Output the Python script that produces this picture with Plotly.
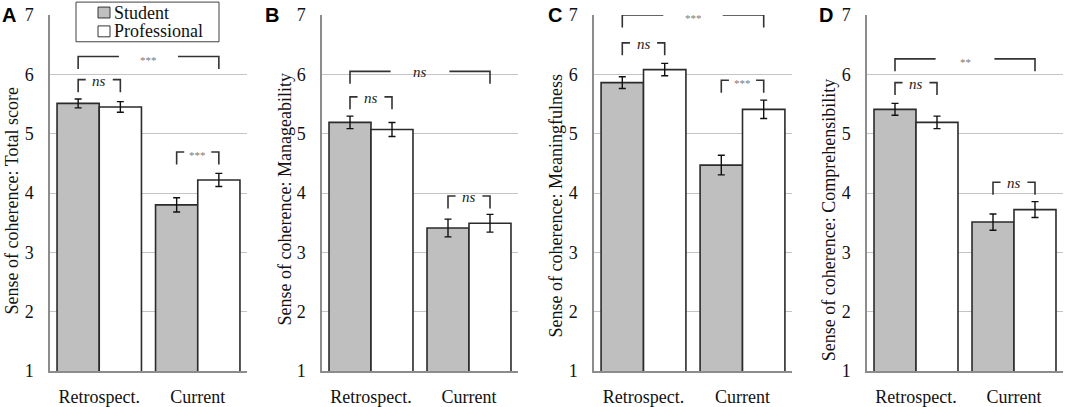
import plotly.graph_objects as go

# ---------------- data ----------------
conditions = ["Retrospect.", "Current"]
groups = ["Student", "Professional"]
panel_letters = ["A", "B", "C", "D"]
y_titles = [
    "Sense of coherence: Total score",
    "Sense of coherence: Manageability",
    "Sense of coherence: Meaningfulness",
    "Sense of coherence: Comprehensibility",
]
student_mean = [[5.51, 3.80], [5.19, 3.41], [5.86, 4.47], [5.41, 3.51]]
professional_mean = [[5.45, 4.22], [5.07, 3.49], [6.08, 5.41], [5.19, 3.72]]
student_err = [[0.075, 0.12], [0.105, 0.15], [0.10, 0.165], [0.10, 0.137]]
professional_err = [[0.09, 0.11], [0.117, 0.15], [0.105, 0.155], [0.105, 0.134]]
# significance: student vs professional within each condition, and retrospective vs current
group_sig = [["ns", "***"], ["ns", "ns"], ["ns", "***"], ["ns", "ns"]]
time_sig = ["***", "ns", "***", "**"]

# ---------------- layout helpers ----------------
W, H = 1065, 407
MT, MB = 15, 33
plot_h = H - MT - MB
x_domains_px = [(50, 247), (322, 518), (594, 792), (867, 1063)]
title_centers_px = [(12, 203), (285, 201), (556, 208), (829, 222)]
letter_centers_px = [(9, 15), (272, 15), (555, 15), (826, 15)]
# bracket levels (top of bracket) per panel: [time, group-retro, group-current]
bracket_tops = [[6.30, 5.91, 4.69], [6.05, 5.62, 3.95], [7.0, 6.53, 5.90], [6.26, 5.86, 4.18]]
leg = 0.21
bargap = 0.143
half = (1 - bargap) / 4.0  # offset of bar centre from category centre

STUDENT_FILL = "#bfbfbf"
OUTLINE = "#2b2b2b"
BRACKET = "#333333"
SERIF = "Liberation Serif"


def px_x(p):
    return p / W


def px_y(p):
    return (H - MB - p) / plot_h


fig = go.Figure()
shapes = []
annotations = []

for i in range(4):
    sfx = "" if i == 0 else str(i + 1)
    xa, ya = "x" + sfx, "y" + sfx
    xs = list(range(len(conditions)))
    fig.add_trace(go.Bar(
        x=xs, y=student_mean[i], name=groups[0], xaxis=xa, yaxis=ya,
        marker=dict(color=STUDENT_FILL, line=dict(color=OUTLINE, width=1.6)),
        error_y=dict(type="data", array=student_err[i], color="#111111", thickness=1.4, width=3.5),
        showlegend=False,
    ))
    fig.add_trace(go.Bar(
        x=xs, y=professional_mean[i], name=groups[1], xaxis=xa, yaxis=ya,
        marker=dict(color="white", line=dict(color=OUTLINE, width=1.6)),
        error_y=dict(type="data", array=professional_err[i], color="#111111", thickness=1.4, width=3.5),
        showlegend=False,
    ))
    d0, d1 = x_domains_px[i]
    fig.layout["xaxis" + sfx] = dict(
        domain=[px_x(d0), px_x(d1)], anchor=ya, range=[-0.5, 1.5],
        tickvals=xs, ticktext=conditions, showline=True, linecolor="#8c8c8c", linewidth=1.5,
        showgrid=False, zeroline=False, ticks="", ticklabelstandoff=9,
        tickfont=dict(family=SERIF, size=18, color="#111111"), fixedrange=True,
    )
    fig.layout["yaxis" + sfx] = dict(
        domain=[0, 1], anchor=xa, range=[1, 7], dtick=1, tick0=1,
        showline=True, linecolor="#8c8c8c", linewidth=1.5,
        showgrid=True, gridcolor="#c4c4c4", gridwidth=1, zeroline=False, ticks="",
        ticklabelstandoff=11, tickfont=dict(family=SERIF, size=18, color="#111111"),
        fixedrange=True,
    )

    # y-axis title
    tx, ty = title_centers_px[i]
    annotations.append(dict(
        x=px_x(tx), y=px_y(ty), xref="paper", yref="paper", text=y_titles[i],
        textangle=-90, showarrow=False, xanchor="center", yanchor="middle",
        font=dict(family=SERIF, size=18, color="#111111"),
    ))
    # panel letter
    lx, ly = letter_centers_px[i]
    annotations.append(dict(
        x=px_x(lx), y=px_y(ly), xref="paper", yref="paper", text="<b>%s</b>" % panel_letters[i],
        showarrow=False, xanchor="center", yanchor="middle",
        font=dict(family="Liberation Sans", size=20, color="#000000"),
    ))

    def bracket(x1, x2, top, label, frac):
        span = x2 - x1
        shapes.append(dict(type="path", xref=xa, yref=ya,
                           path="M %f,%f L %f,%f L %f,%f" % (x1, top - leg, x1, top, x1 + frac * span, top),
                           line=dict(color=BRACKET, width=1.6)))
        shapes.append(dict(type="path", xref=xa, yref=ya,
                           path="M %f,%f L %f,%f L %f,%f" % (x2 - frac * span, top, x2, top, x2, top - leg),
                           line=dict(color=BRACKET, width=1.6)))
        if label == "ns":
            annotations.append(dict(x=(x1 + x2) / 2, y=top, xref=xa, yref=ya, text="<i>ns</i>",
                                    showarrow=False, yanchor="middle", yshift=-1,
                                    font=dict(family=SERIF, size=15, color="#222222")))
        else:
            annotations.append(dict(x=(x1 + x2) / 2, y=top, xref=xa, yref=ya, text=label,
                                    showarrow=False, yanchor="middle", yshift=-3,
                                    font=dict(family=SERIF, size=11, color="#7a7a7a")))

    tops = bracket_tops[i]
    bracket(0 - half, 1 + half, tops[0], time_sig[i], 0.29)
    for c in range(2):
        bracket(c - half, c + half, tops[1 + c], group_sig[i][c], 0.18)

# ---------------- legend (drawn manually in panel A) ----------------
shapes.append(dict(type="rect", xref="paper", yref="paper",
                   x0=px_x(76), x1=px_x(219), y0=px_y(42), y1=px_y(2),
                   fillcolor="white", line=dict(color="#404040", width=1)))
legend_fills = [STUDENT_FILL, "white"]
legend_rows = [12.5, 31.5]
for g, fill, ry in zip(groups, legend_fills, legend_rows):
    shapes.append(dict(type="rect", xref="paper", yref="paper",
                       x0=px_x(98), x1=px_x(110), y0=px_y(ry + 5.5), y1=px_y(ry - 5.5),
                       fillcolor=fill, line=dict(color="#333333", width=1)))
    annotations.append(dict(x=px_x(112), y=px_y(ry), xref="paper", yref="paper", text=g,
                            showarrow=False, xanchor="left", yanchor="middle",
                            font=dict(family=SERIF, size=18, color="#111111")))

fig.update_layout(
    width=W, height=H, margin=dict(l=0, r=0, t=MT, b=MB),
    paper_bgcolor="white", plot_bgcolor="white",
    barmode="group", bargap=bargap, bargroupgap=0,
    shapes=shapes, annotations=annotations, showlegend=False,
)

fig.write_html(
    "out.html",
    config={"displayModeBar": False},
    post_script="document.body.style.margin='0';document.body.style.padding='0';document.body.style.overflow='hidden';",
)
